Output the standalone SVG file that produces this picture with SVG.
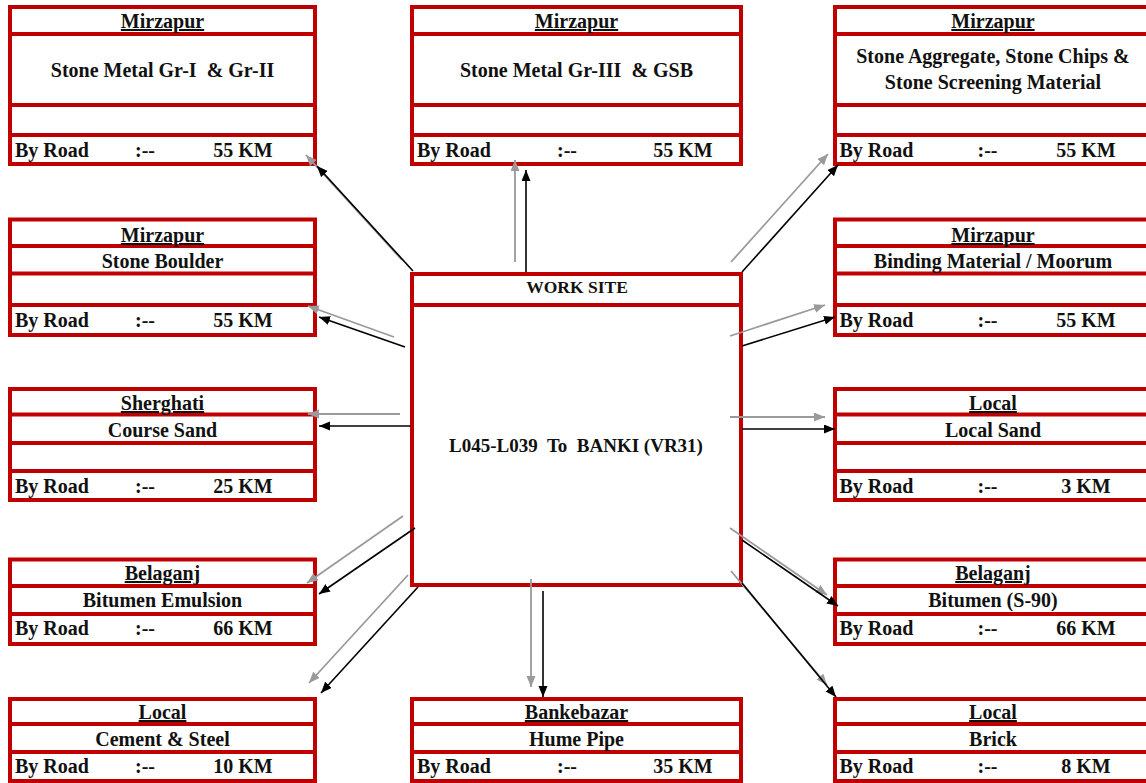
<svg xmlns="http://www.w3.org/2000/svg" width="1146" height="783" viewBox="0 0 1146 783">
<style>
.bx{fill:#fff;stroke:#C00000;stroke-width:4}
.dv{stroke:#C00000;stroke-width:4}
text{font-family:"Liberation Serif","Times New Roman",serif;font-weight:bold;font-size:20px;fill:#111}
.h{text-anchor:middle;text-decoration:underline}
.m{text-anchor:middle}
.c{text-anchor:middle}
.ws{font-size:17.5px;text-anchor:middle}
.tt{font-size:19px;text-anchor:middle}
.ka{stroke:#000;stroke-width:1.6;fill:none}
.ga{stroke:#9a9a9a;stroke-width:1.8;fill:none}
</style>
<defs>
<marker id="ab" markerUnits="userSpaceOnUse" markerWidth="12" markerHeight="10" refX="11" refY="4.5" orient="auto"><path d="M0,0 L11,4.5 L0,9 z" fill="#000"/></marker>
<marker id="ag" markerUnits="userSpaceOnUse" markerWidth="12" markerHeight="10" refX="11" refY="4.5" orient="auto"><path d="M0,0 L11,4.5 L0,9 z" fill="#9a9a9a"/></marker>
</defs>

<!-- Top row -->
<g id="n-stone-metal-1">
<rect class="bx" x="10" y="7" width="305" height="157"/>
<line class="dv" x1="10" y1="34" x2="315" y2="34"/><line class="dv" x1="10" y1="105" x2="315" y2="105"/><line class="dv" x1="10" y1="135" x2="315" y2="135"/>
<text class="h" x="162.5" y="28">Mirzapur</text>
<text class="m" x="162.5" y="77" xml:space="preserve">Stone Metal Gr-I  &amp; Gr-II</text>
<text x="15" y="157">By Road</text><text class="c" x="145" y="157">:--</text><text class="c" x="243" y="157">55 KM</text>
</g>
<g id="n-stone-metal-3">
<rect class="bx" x="412" y="7" width="329" height="157"/>
<line class="dv" x1="412" y1="34" x2="741" y2="34"/><line class="dv" x1="412" y1="105" x2="741" y2="105"/><line class="dv" x1="412" y1="135" x2="741" y2="135"/>
<text class="h" x="576.5" y="28">Mirzapur</text>
<text class="m" x="576.5" y="77" xml:space="preserve">Stone Metal Gr-III  &amp; GSB</text>
<text x="417" y="157">By Road</text><text class="c" x="567" y="157">:--</text><text class="c" x="683" y="157">55 KM</text>
</g>
<g id="n-aggregate">
<rect class="bx" x="835" y="7" width="316" height="157"/>
<line class="dv" x1="835" y1="34" x2="1151" y2="34"/><line class="dv" x1="835" y1="105" x2="1151" y2="105"/><line class="dv" x1="835" y1="135" x2="1151" y2="135"/>
<text class="h" x="993" y="28">Mirzapur</text>
<text class="m" x="993" y="63">Stone Aggregate, Stone Chips &amp;</text>
<text class="m" x="993" y="89">Stone Screening Material</text>
<text x="839.5" y="157">By Road</text><text class="c" x="987.5" y="157">:--</text><text class="c" x="1086" y="157">55 KM</text>
</g>

<!-- Row B -->
<g id="n-boulder">
<rect class="bx" x="10" y="219.5" width="305" height="115.5"/>
<line class="dv" x1="10" y1="246" x2="315" y2="246"/><line class="dv" x1="10" y1="273.5" x2="315" y2="273.5"/><line class="dv" x1="10" y1="305" x2="315" y2="305"/>
<text class="h" x="162.5" y="242">Mirzapur</text>
<text class="m" x="162.5" y="268">Stone Boulder</text>
<text x="15" y="327">By Road</text><text class="c" x="145" y="327">:--</text><text class="c" x="243" y="327">55 KM</text>
</g>
<g id="n-binding">
<rect class="bx" x="835" y="219.5" width="316" height="115.5"/>
<line class="dv" x1="835" y1="246" x2="1151" y2="246"/><line class="dv" x1="835" y1="273.5" x2="1151" y2="273.5"/><line class="dv" x1="835" y1="305" x2="1151" y2="305"/>
<text class="h" x="993" y="242">Mirzapur</text>
<text class="m" x="993" y="268">Binding Material / Moorum</text>
<text x="839.5" y="327">By Road</text><text class="c" x="987.5" y="327">:--</text><text class="c" x="1086" y="327">55 KM</text>
</g>

<!-- Row C -->
<g id="n-course-sand">
<rect class="bx" x="10" y="389" width="305" height="111"/>
<line class="dv" x1="10" y1="414.5" x2="315" y2="414.5"/><line class="dv" x1="10" y1="443" x2="315" y2="443"/><line class="dv" x1="10" y1="471" x2="315" y2="471"/>
<text class="h" x="162.5" y="410">Sherghati</text>
<text class="m" x="162.5" y="437">Course Sand</text>
<text x="15" y="493">By Road</text><text class="c" x="145" y="493">:--</text><text class="c" x="243" y="493">25 KM</text>
</g>
<g id="n-local-sand">
<rect class="bx" x="835" y="389" width="316" height="111"/>
<line class="dv" x1="835" y1="414.5" x2="1151" y2="414.5"/><line class="dv" x1="835" y1="443" x2="1151" y2="443"/><line class="dv" x1="835" y1="471" x2="1151" y2="471"/>
<text class="h" x="993" y="410">Local</text>
<text class="m" x="993" y="437">Local Sand</text>
<text x="839.5" y="493">By Road</text><text class="c" x="987.5" y="493">:--</text><text class="c" x="1086" y="493">3 KM</text>
</g>

<!-- Center -->
<g id="n-work-site">
<rect class="bx" x="412" y="274" width="329" height="311"/>
<line class="dv" x1="412" y1="305" x2="741" y2="305"/>
<text class="ws" x="577" y="293">WORK SITE</text>
<text class="tt" x="576" y="452" xml:space="preserve">L045-L039  To  BANKI (VR31)</text>
</g>

<!-- Row D -->
<g id="n-bitumen-emulsion">
<rect class="bx" x="10" y="559.5" width="305" height="84.5"/>
<line class="dv" x1="10" y1="586" x2="315" y2="586"/><line class="dv" x1="10" y1="614" x2="315" y2="614"/>
<text class="h" x="162.5" y="580">Belaganj</text>
<text class="m" x="162.5" y="607">Bitumen Emulsion</text>
<text x="15" y="635">By Road</text><text class="c" x="145" y="635">:--</text><text class="c" x="243" y="635">66 KM</text>
</g>
<g id="n-bitumen-s90">
<rect class="bx" x="835" y="559.5" width="316" height="84.5"/>
<line class="dv" x1="835" y1="586" x2="1151" y2="586"/><line class="dv" x1="835" y1="614" x2="1151" y2="614"/>
<text class="h" x="993" y="580">Belaganj</text>
<text class="m" x="993" y="607">Bitumen (S-90)</text>
<text x="839.5" y="635">By Road</text><text class="c" x="987.5" y="635">:--</text><text class="c" x="1086" y="635">66 KM</text>
</g>

<!-- Row E -->
<g id="n-cement-steel">
<rect class="bx" x="10" y="699" width="305" height="82"/>
<line class="dv" x1="10" y1="724" x2="315" y2="724"/><line class="dv" x1="10" y1="752" x2="315" y2="752"/>
<text class="h" x="162.5" y="719">Local</text>
<text class="m" x="162.5" y="746">Cement &amp; Steel</text>
<text x="15" y="773">By Road</text><text class="c" x="145" y="773">:--</text><text class="c" x="243" y="773">10 KM</text>
</g>
<g id="n-hume-pipe">
<rect class="bx" x="412" y="699" width="329" height="82"/>
<line class="dv" x1="412" y1="724" x2="741" y2="724"/><line class="dv" x1="412" y1="752" x2="741" y2="752"/>
<text class="h" x="576.5" y="719">Bankebazar</text>
<text class="m" x="576.5" y="746">Hume Pipe</text>
<text x="417" y="773">By Road</text><text class="c" x="567" y="773">:--</text><text class="c" x="683" y="773">35 KM</text>
</g>
<g id="n-brick">
<rect class="bx" x="835" y="699" width="316" height="82"/>
<line class="dv" x1="835" y1="724" x2="1151" y2="724"/><line class="dv" x1="835" y1="752" x2="1151" y2="752"/>
<text class="h" x="993" y="719">Local</text>
<text class="m" x="993" y="746">Brick</text>
<text x="839.5" y="773">By Road</text><text class="c" x="987.5" y="773">:--</text><text class="c" x="1086" y="773">8 KM</text>
</g>

<!-- Connectors -->
<g id="connectors">
<g id="shadows" class="ga" marker-end="url(#ag)">
<line x1="402" y1="260" x2="306" y2="155"/>
<line x1="515" y1="262" x2="515" y2="160"/>
<line x1="731" y1="262" x2="828" y2="154"/>
<line x1="394" y1="337" x2="308" y2="306"/>
<line x1="400" y1="414" x2="308" y2="414"/>
<line x1="403" y1="516" x2="307" y2="583"/>
<line x1="408" y1="575" x2="309" y2="683"/>
<line x1="531" y1="579" x2="531" y2="687"/>
<line x1="730" y1="336" x2="825" y2="305"/>
<line x1="730" y1="417" x2="825" y2="417"/>
<line x1="730" y1="528" x2="827" y2="595"/>
<line x1="731" y1="571" x2="827" y2="685"/>
</g>
<g id="arrows" class="ka" marker-end="url(#ab)">
<line x1="413" y1="271" x2="317" y2="166"/>
<line x1="526" y1="272" x2="526" y2="170"/>
<line x1="742" y1="272" x2="838" y2="165"/>
<line x1="405" y1="347" x2="319" y2="317"/>
<line x1="411" y1="426" x2="319" y2="426"/>
<line x1="415" y1="528" x2="319" y2="594"/>
<line x1="418" y1="587" x2="321" y2="693"/>
<line x1="543" y1="591" x2="543" y2="697"/>
<line x1="742" y1="346" x2="835" y2="317"/>
<line x1="742" y1="429" x2="835" y2="429"/>
<line x1="742" y1="540" x2="838" y2="606"/>
<line x1="742" y1="583" x2="836" y2="697"/>
</g>
</g>
</svg>
